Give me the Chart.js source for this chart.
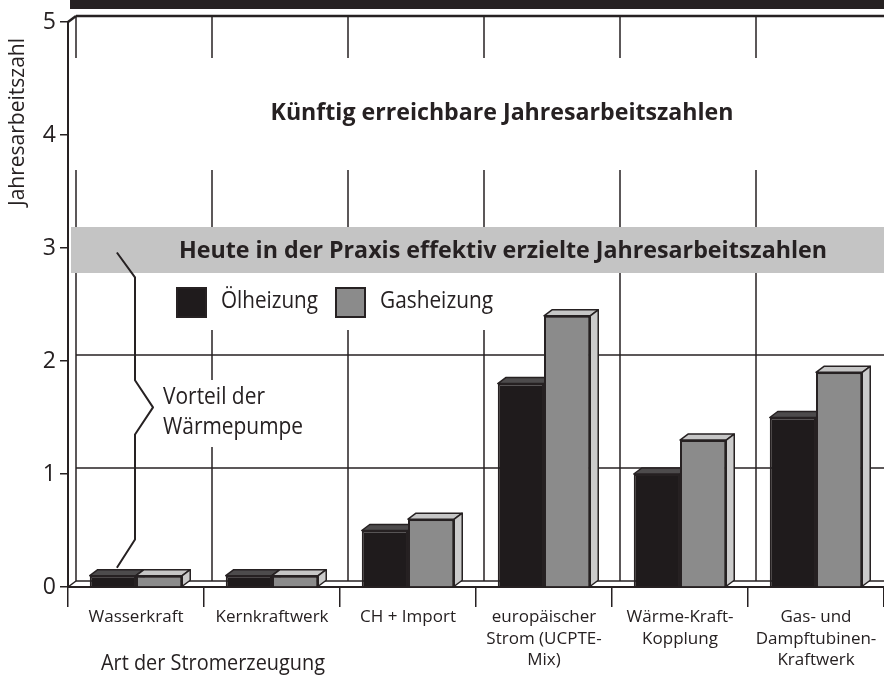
<!DOCTYPE html>
<html>
<head>
<meta charset="utf-8">
<script src="https://cdn.jsdelivr.net/npm/chart.js@4"></script>
<style>
  html, body { margin: 0; padding: 0; background: #fff; }
  canvas { display: block; }
</style>
</head>
<body>
<canvas id="waermepumpeChart" width="884" height="677"></canvas>
<script>
// data
const categories = [
  ['Wasserkraft'],
  ['Kernkraftwerk'],
  ['CH + Import'],
  ['europäischer', 'Strom (UCPTE-', 'Mix)'],
  ['Wärme-Kraft-', 'Kopplung'],
  ['Gas- und', 'Dampftubinen-', 'Kraftwerk']
];
const oelValues = [0.1, 0.1, 0.5, 1.8, 1.0, 1.5];
const gasValues = [0.1, 0.1, 0.6, 2.4, 1.3, 1.9];
const seriesNames = ['Ölheizung', 'Gasheizung'];
const yMin = 0, yMax = 5, yStep = 1;
const yTitle = 'Jahresarbeitszahl';
const xTitle = 'Art der Stromerzeugung';
const futureText = 'Künftig erreichbare Jahresarbeitszahlen';
const todayText = 'Heute in der Praxis effektiv erzielte Jahresarbeitszahlen';
const todayLevel = 3;
const noteLines = ['Vorteil der', 'Wärmepumpe'];

const INK = '#262122';
const FONT = '"Open Sans", "Noto Sans", sans-serif';
const frontColors = ['#1f1b1c', '#8b8b8b'];
const topColors = ['#4d4b4c', '#c6c6c6'];
const sideColors = ['#3a3839', '#cbcbcb'];
const DX = 8, DY = 6;   // depth of the pseudo 3d

function line(ctx, x1, y1, x2, y2) {
  ctx.beginPath();
  ctx.moveTo(x1, y1);
  ctx.lineTo(x2, y2);
  ctx.stroke();
}

function poly(ctx, pts, fill) {
  ctx.beginPath();
  ctx.moveTo(pts[0][0], pts[0][1]);
  for (let i = 1; i < pts.length; i++) ctx.lineTo(pts[i][0], pts[i][1]);
  ctx.closePath();
  ctx.fillStyle = fill;
  ctx.fill();
  ctx.stroke();
}

// back wall, boxes, band texts and legend
const wallPlugin = {
  id: 'wall',
  beforeDatasetsDraw(chart) {
    const {ctx, chartArea: a, scales: {x, y}} = chart;
    const bx = a.left + DX;
    const floorY = y.getPixelForValue(yMin) - DY;
    const topY = y.getPixelForValue(yMax) - DY;
    const step = (a.right - a.left) / categories.length;
    ctx.save();

    // black strip at the very top
    ctx.fillStyle = '#262122';
    ctx.fillRect(a.left + 2, 0, a.right - a.left, 9);

    ctx.strokeStyle = INK;
    ctx.lineWidth = 1.5;
    for (let v = yMin + yStep; v < yMax; v += yStep) {
      const py = y.getPixelForValue(v) - DY;
      line(ctx, bx, py, a.right, py);
    }
    for (let i = 0; i < categories.length; i++) {
      line(ctx, bx + i * step, topY, bx + i * step, floorY);
    }
    line(ctx, bx, floorY, a.right, floorY);
    line(ctx, a.left, y.getPixelForValue(yMin), bx, floorY);
    ctx.lineWidth = 2.5;
    line(ctx, bx, topY, a.right, topY);
    line(ctx, a.left, y.getPixelForValue(yMax), bx, topY);

    // white field behind the upper heading
    const y4 = y.getPixelForValue(4);
    ctx.fillStyle = '#fff';
    ctx.fillRect(a.left + 3, y4 - 77, a.right - a.left, 112);

    // grey band at today's level
    const y3 = y.getPixelForValue(todayLevel);
    ctx.fillStyle = '#c4c4c4';
    ctx.fillRect(a.left + 3, y3 - 21, a.right - a.left, 46);

    // white fields for legend and note
    ctx.fillStyle = '#fff';
    ctx.fillRect(150, y3 + 25, 355, 57);
    ctx.fillRect(150, y.getPixelForValue(2) + 19, 180, 67);

    ctx.fillStyle = INK;
    ctx.textBaseline = 'middle';
    ctx.textAlign = 'center';
    ctx.font = 'bold 24px ' + FONT;
    ctx.fillText(futureText, 502, y4 - 22, 463);
    ctx.fillText(todayText, 503, y3 + 3, 648);

    // legend
    const lx = [177, 336];
    seriesNames.forEach((name, i) => {
      ctx.fillStyle = frontColors[i];
      ctx.lineWidth = 2;
      ctx.fillRect(lx[i], y3 + 40, 29, 29);
      ctx.strokeRect(lx[i], y3 + 40, 29, 29);
      ctx.fillStyle = INK;
      ctx.textAlign = 'left';
      ctx.font = '23px ' + FONT;
      ctx.fillText(name, lx[i] + 44, y3 + 53, i === 0 ? 97 : 113);
    });

    // note text
    ctx.font = '24px ' + FONT;
    ctx.fillText(noteLines[0], 163, y.getPixelForValue(2) + 36, 102);
    ctx.fillText(noteLines[1], 163, y.getPixelForValue(2) + 66, 140);
    ctx.restore();
  },
  afterDatasetsDraw(chart) {
    const {ctx, scales: {y}} = chart;
    const metas = [chart.getDatasetMeta(0), chart.getDatasetMeta(1)];
    ctx.save();
    ctx.strokeStyle = INK;
    ctx.lineWidth = 1.5;
    ctx.lineJoin = 'round';
    categories.forEach((c, j) => {
      metas.forEach((meta, i) => {
        const bar = meta.data[j];
        const p = bar.getProps(['x', 'y', 'base', 'width'], true);
        const l = p.x - p.width / 2, r = p.x + p.width / 2;
        if (i === 1) bar.draw(ctx);
        poly(ctx, [[l, p.y], [l + DX, p.y - DY], [r + DX, p.y - DY], [r, p.y]], topColors[i]);
        poly(ctx, [[r, p.y], [r + DX, p.y - DY], [r + DX, p.base - DY], [r, p.base]], sideColors[i]);
      });
    });

    // brace from the grey band down to the first bar
    const b0 = metas[0].data[0].getProps(['x', 'width'], true);
    const xr = b0.x + b0.width / 2 - 1;
    const brace = [
      [b0.x + 4, 2.96], [xr, 2.74], [xr, 1.83], [xr + 18, 1.59],
      [xr, 1.35], [xr, 0.42], [b0.x + 4, 0.17]
    ];
    ctx.lineWidth = 2;
    ctx.beginPath();
    brace.forEach((pt, k) => {
      const py = y.getPixelForValue(pt[1]);
      if (k === 0) ctx.moveTo(pt[0], py); else ctx.lineTo(pt[0], py);
    });
    ctx.stroke();

    // axis titles
    ctx.fillStyle = INK;
    ctx.font = '22px ' + FONT;
    ctx.textAlign = 'left';
    ctx.textBaseline = 'alphabetic';
    ctx.fillText(xTitle, 101, 670, 224);
    ctx.save();
    ctx.translate(24, 122);
    ctx.rotate(-Math.PI / 2);
    ctx.textAlign = 'center';
    ctx.font = '21px ' + FONT;
    ctx.fillText(yTitle, 0, 0, 168);
    ctx.restore();
    ctx.restore();
  }
};

const chart = new Chart(document.getElementById('waermepumpeChart'), {
  type: 'bar',
  data: {
    labels: categories,
    datasets: [{
      label: seriesNames[0],
      data: oelValues,
      backgroundColor: frontColors[0],
      borderColor: INK,
      borderWidth: 2
    }, {
      label: seriesNames[1],
      data: gasValues,
      backgroundColor: frontColors[1],
      borderColor: INK,
      borderWidth: 2
    }]
  },
  options: {
    responsive: false,
    devicePixelRatio: 1,
    animation: false,
    layout: { padding: { top: 22, right: 0, left: 0, bottom: 0 } },
    categoryPercentage: 0.68,
    barPercentage: 1.0,
    plugins: {
      legend: { display: false },
      tooltip: { enabled: false },
      title: { display: false }
    },
    scales: {
      x: {
        afterFit(scale) { scale.height = 90; },
        grid: { drawOnChartArea: false, drawTicks: true, tickLength: 20, color: INK, lineWidth: 1.5, offset: true },
        border: { display: true, color: INK, width: 2 },
        ticks: {
          color: INK, autoSkip: false, maxRotation: 0, padding: 0,
          font: { family: FONT, size: 17, lineHeight: 1.25 }
        }
      },
      y: {
        min: yMin, max: yMax,
        afterFit(scale) { scale.width = 68; },
        grid: { drawOnChartArea: false, drawTicks: true, tickLength: 8, color: INK, lineWidth: 1.5 },
        border: { display: true, color: INK, width: 2 },
        ticks: { stepSize: yStep, color: INK, padding: 4, font: { family: FONT, size: 23 } }
      }
    }
  },
  plugins: [wallPlugin]
});
</script>
</body>
</html>
